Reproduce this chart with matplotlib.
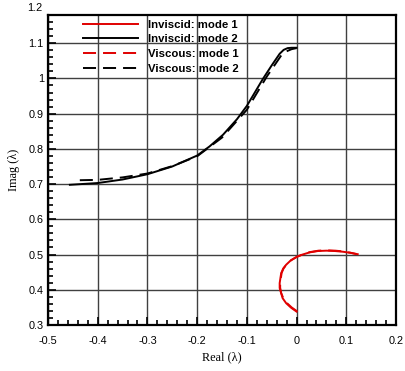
import matplotlib
matplotlib.use("Agg")
import matplotlib.pyplot as plt
from matplotlib.ticker import MultipleLocator

# Eigenvalue trajectories (real part, imaginary part)
inv_m1_re = [0.0, -0.011, -0.021, -0.028, -0.031, -0.034, -0.034, -0.031, -0.027, -0.021, -0.012,
             0.0, 0.012, 0.026, 0.043, 0.060, 0.077, 0.093, 0.108, 0.123]
inv_m1_im = [0.338, 0.349, 0.362, 0.376, 0.390, 0.405, 0.419, 0.447, 0.460, 0.471, 0.483,
             0.493, 0.500, 0.506, 0.510, 0.511, 0.510, 0.508, 0.505, 0.501]

vis_m1_re = [0.001, -0.010, -0.020, -0.027, -0.031, -0.033, -0.033, -0.030, -0.026, -0.020, -0.011,
             0.001, 0.013, 0.027, 0.044, 0.061, 0.078, 0.094, 0.109, 0.121]
vis_m1_im = [0.339, 0.350, 0.363, 0.377, 0.391, 0.406, 0.420, 0.448, 0.461, 0.472, 0.484,
             0.494, 0.501, 0.507, 0.511, 0.512, 0.511, 0.509, 0.505, 0.501]

inv_m2_re = [-0.456, -0.4, -0.35, -0.3, -0.25, -0.2, -0.175, -0.148, -0.12, -0.1, -0.068,
             -0.05, -0.034, -0.026, -0.018, -0.01, 0.0]
inv_m2_im = [0.698, 0.703, 0.713, 0.728, 0.750, 0.781, 0.807, 0.840, 0.884, 0.922, 0.998,
             1.037, 1.070, 1.081, 1.086, 1.087, 1.087]

vis_m2_re = [-0.436, -0.4, -0.35, -0.3, -0.25, -0.2, -0.15, -0.1, -0.06, -0.03, -0.02,
             -0.01, 0.0]
vis_m2_im = [0.711, 0.712, 0.719, 0.730, 0.751, 0.779, 0.832, 0.911, 1.005, 1.067, 1.077,
             1.083, 1.086]

xticks = [-0.5, -0.4, -0.3, -0.2, -0.1, 0.0, 0.1, 0.2]
yticks = [0.3, 0.4, 0.5, 0.6, 0.7, 0.8, 0.9, 1.0, 1.1]
xticklabels = ["-0.5", "-0.4", "-0.3", "-0.2", "-0.1", "0", "0.1", "0.2"]
yticklabels = ["0.3", "0.4", "0.5", "0.6", "0.7", "0.8", "0.9", "1", "1.1"]

fig = plt.figure(figsize=(4.06, 3.71), dpi=100)
ax = fig.add_axes([48 / 406, 46 / 371, 348 / 406, 310 / 371])

lw = 1.4
dash = (6.7, 3.6)
ax.plot(inv_m1_re, inv_m1_im, color="#e00000", lw=lw, label="Inviscid: mode 1", zorder=3)
ax.plot(inv_m2_re, inv_m2_im, color="black", lw=lw, label="Inviscid: mode 2", zorder=3)
ax.plot(vis_m1_re, vis_m1_im, color="#e00000", lw=lw, dashes=dash, label="Viscous: mode 1", zorder=3)
ax.plot(vis_m2_re, vis_m2_im, color="black", lw=lw, dashes=dash, label="Viscous: mode 2", zorder=3)

ax.set_xlim(-0.5, 0.2)
ax.set_ylim(0.3, 1.18)
ax.set_xticks(xticks)
ax.set_xticklabels(xticklabels)
ax.set_yticks(yticks)
ax.set_yticklabels(yticklabels)
ax.xaxis.set_minor_locator(MultipleLocator(0.02))
ax.yaxis.set_minor_locator(MultipleLocator(0.02))

tick_font = {"family": "Liberation Sans", "size": 7.8}
for lab in ax.get_xticklabels() + ax.get_yticklabels():
    lab.set_fontfamily("Liberation Sans")
    lab.set_fontsize(7.8)
ax.tick_params(which="both", direction="in", top=False, right=False, width=1.2, color="black")
ax.tick_params(axis="x", which="major", length=6, pad=8)
ax.tick_params(axis="y", which="major", length=6, pad=3)
ax.tick_params(which="minor", length=3.5)

# Top axis label sits above the clipped frame
ax.text(-0.5 - 0.012, 1.2, "1.2", ha="right", va="center", fontdict=tick_font, clip_on=False)

ax.grid(True, which="major", color="#404040", lw=1.0)
ax.set_axisbelow(True)
for side in ["left", "bottom", "right", "top"]:
    ax.spines[side].set_linewidth(1.6)
    ax.spines[side].set_color("black")

ax.set_xlabel("Real (λ)", fontfamily="Liberation Serif", fontsize=8.8, labelpad=4)
ax.set_ylabel("Imag (λ)", fontfamily="Liberation Serif", fontsize=8.8, labelpad=6)

leg = ax.legend(loc="upper left", bbox_to_anchor=(78 / 406, 1 - 15 / 371),
                bbox_transform=fig.transFigure, frameon=False,
                prop={"family": "Liberation Sans", "weight": "bold", "size": 8.2},
                handlelength=4.9, handletextpad=0.85, labelspacing=0.42, borderaxespad=0)

fig.savefig("out.png", dpi=100)
